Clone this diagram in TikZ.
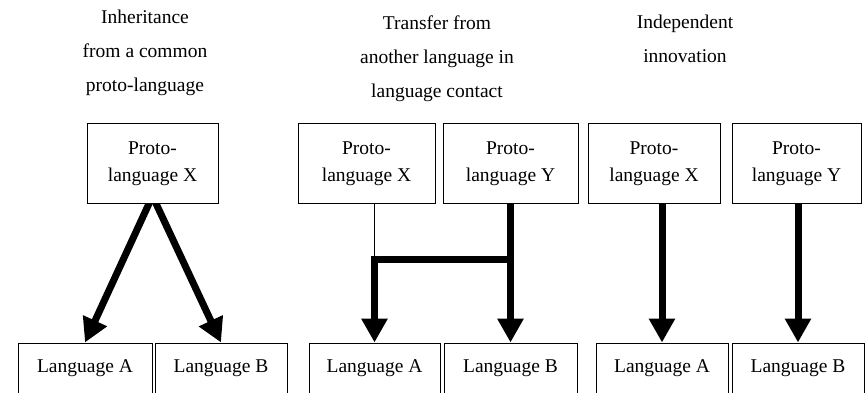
\documentclass[tikz,border=0pt]{standalone}
\usepackage{fontspec}
\setmainfont{Liberation Serif}
\usetikzlibrary{arrows.meta,backgrounds,calc}

\tikzset{
  box/.style={draw, line width=1pt, fill=white, inner sep=0pt, align=center,
    font=\fontsize{19.5}{27}\selectfont},
  protobox/.style={box, minimum height=80pt},
  langbox/.style={box, minimum height=51pt},
  heading/.style={anchor=north, inner sep=0pt, align=center,
    font=\fontsize{19.5}{34}\selectfont},
  flow/.style={line width=7pt, -{Triangle[width=25pt,length=24pt]}},
  thinlink/.style={line width=1pt}
}

\begin{document}
\begin{tikzpicture}[x=1pt,y=-1pt]
  \useasboundingbox (0,0) rectangle (865,393);

  % column headings
  \node[heading] (h1) at (145,10)  {Inheritance\\from a common\\proto-language};
  \node[heading] (h2) at (437,15.5) {Transfer from\\another language in\\language contact};
  \node[heading] (h3) at (685,15)  {Independent\\innovation};

  % inheritance
  \node[protobox, minimum width=131pt] (px1) at (152.5,163.5) {Proto-\\language X};
  \node[langbox,  minimum width=134pt] (la1) at (85,368.5)  {Language A};
  \node[langbox,  minimum width=132pt] (lb1) at (221,368.5) {Language B};

  % transfer in contact
  \node[protobox, minimum width=137pt] (px2) at (366.5,163.5) {Proto-\\language X};
  \node[protobox, minimum width=135pt] (py2) at (510.5,163.5) {Proto-\\language Y};
  \node[langbox,  minimum width=131pt] (la2) at (374.5,368.5) {Language A};
  \node[langbox,  minimum width=133pt] (lb2) at (510.5,368.5) {Language B};

  % independent innovation
  \node[protobox, minimum width=132pt] (px3) at (654,163.5)   {Proto-\\language X};
  \node[protobox, minimum width=129pt] (py3) at (796.5,163.5) {Proto-\\language Y};
  \node[langbox,  minimum width=132pt] (la3) at (662,368.5)  {Language A};
  \node[langbox,  minimum width=132pt] (lb3) at (798,368.5)  {Language B};

  % split point hidden just inside the source box
  \coordinate (apex) at ($(px1.south)+(0,-8)$);
  \coordinate (join) at (la2.north |- 0,259);

  \begin{pgfonlayer}{background}
    % inheritance: one source, two descendants
    \draw[flow] (apex) -- (la1.north);
    \draw[flow] (apex) -- (lb1.north);
    % contact: Y feeds both, X only a thin link
    \draw[thinlink] (la2.north |- px2.south) -- (join);
    \draw[flow] (py2.south) -- (lb2.north);
    \draw[flow] (py2.south |- join) -| (la2.north);
    % independent lines
    \draw[flow] (la3.north |- px3.south) -- (la3.north);
    \draw[flow] (lb3.north |- py3.south) -- (lb3.north);
  \end{pgfonlayer}
\end{tikzpicture}
\end{document}
